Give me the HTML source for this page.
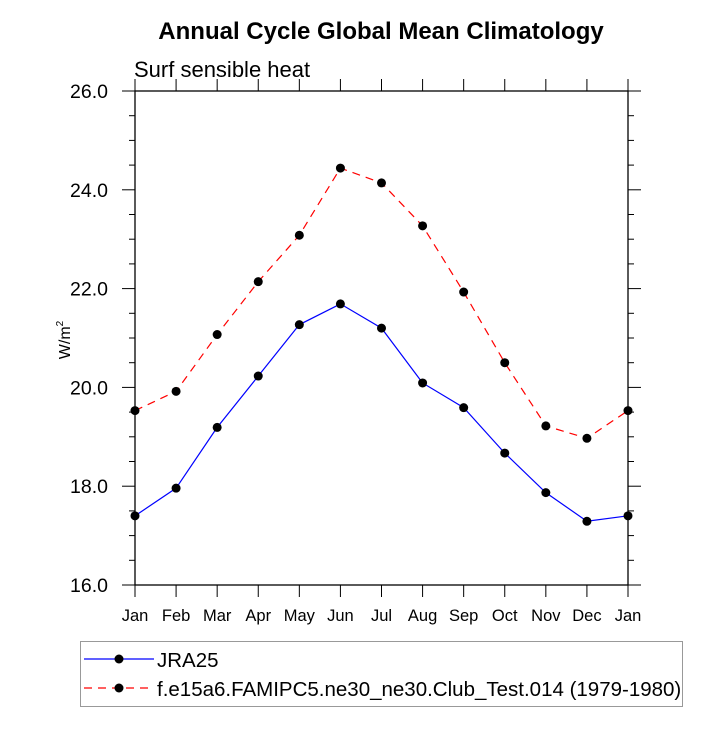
<!DOCTYPE html>
<html><head><meta charset="utf-8"><style>
body{margin:0;background:#fff;}
svg text{font-family:"Liberation Sans",Arial,sans-serif;}
</style></head><body>
<svg id="chart" width="727" height="727" xmlns="http://www.w3.org/2000/svg">
<text x="381" y="39" text-anchor="middle" font-size="24" font-weight="bold">Annual Cycle Global Mean Climatology</text>
<text x="134" y="77" font-size="22">Surf sensible heat</text>
<text x="0" y="0" font-size="16" transform="translate(70,340) rotate(-90)" text-anchor="middle">W/m<tspan font-size="10" dy="-7">2</tspan></text>
<g id="axes"></g>
<g id="series"></g>
<g>
<rect x="80.5" y="641.5" width="602" height="65" fill="none" stroke="#999" stroke-width="1"/>
<g>
<line x1="84" y1="659" x2="154" y2="659" stroke="#0000ff" stroke-width="1.2"/>
<circle cx="119" cy="659" r="4.5" fill="#000"/>
<text x="157" y="667" font-size="20.5">JRA25</text></g>
<g>
<line x1="84" y1="688" x2="154" y2="688" stroke="#ff0000" stroke-width="1.2" stroke-dasharray="8,6"/>
<circle cx="119" cy="688" r="4.5" fill="#000"/>
<text x="157" y="696" font-size="20.5">f.e15a6.FAMIPC5.ne30_ne30.Club_Test.014 (1979-1980)</text></g>
</g>
</svg>
<script>
const months = ["Jan","Feb","Mar","Apr","May","Jun","Jul","Aug","Sep","Oct","Nov","Dec","Jan"];
const jra25 = [17.40,17.96,19.19,20.23,21.27,21.69,21.20,20.09,19.59,18.67,17.87,17.29,17.40];
const model = [19.53,19.92,21.07,22.14,23.08,24.44,24.14,23.27,21.93,20.50,19.22,18.97,19.53];
const yTicks = ["16.0","18.0","20.0","22.0","24.0","26.0"];
const NS="http://www.w3.org/2000/svg";
const L=135,R=628,T=91,B=585,yMin=16,yMax=26;
const xs=i=>L+(R-L)*i/(months.length-1);
const ys=v=>B-(B-T)*(v-yMin)/(yMax-yMin);
function mk(t,a,p){const e=document.createElementNS(NS,t);for(const k in a)e.setAttribute(k,a[k]);p.appendChild(e);return e;}
const ax=document.getElementById('axes');
const fr=mk('rect',{x:L,y:T,width:R-L,height:B-T,fill:'none',stroke:'#000','stroke-width':1.3},ax);


for(let v=yMin;v<=yMax+1e-9;v+=0.5){
  const y=ys(v), major=Math.abs(v%2)<1e-9, len=major?13:6;
  mk('line',{x1:L-len,y1:y,x2:L,y2:y,stroke:'#000','stroke-width':1},ax);
  mk('line',{x1:R,y1:y,x2:R+len,y2:y,stroke:'#000','stroke-width':1},ax);
}
yTicks.forEach(s=>{const t=mk('text',{x:L-27,y:ys(parseFloat(s))+7,'text-anchor':'end','font-size':19.5},ax);t.textContent=s;

});
months.forEach((m,i)=>{const x=xs(i);
  mk('line',{x1:x,y1:B,x2:x,y2:B+12,stroke:'#000','stroke-width':1},ax);
  mk('line',{x1:x,y1:T,x2:x,y2:T-12,stroke:'#000','stroke-width':1},ax);
  const t=mk('text',{x:x,y:B+36,'text-anchor':'middle','font-size':16.5},ax);t.textContent=m;
  
  
});
const sg=document.getElementById('series');
function draw(vals,color,dash,name){
  const g=mk('g',{},sg);
  
  
  const pts=vals.map((v,i)=>xs(i)+','+ys(v)).join(' ');
  const a={points:pts,fill:'none',stroke:color,'stroke-width':1.2};
  if(dash)a['stroke-dasharray']=dash;
  mk('polyline',a,g);
  vals.forEach((v,i)=>{const c=mk('circle',{cx:xs(i),cy:ys(v),r:4.5,fill:'#000'},g);
    
    });
}
draw(model,'#ff0000','8,6','series-model');
draw(jra25,'#0000ff',null,'series-jra25');
</script>
</body></html>
